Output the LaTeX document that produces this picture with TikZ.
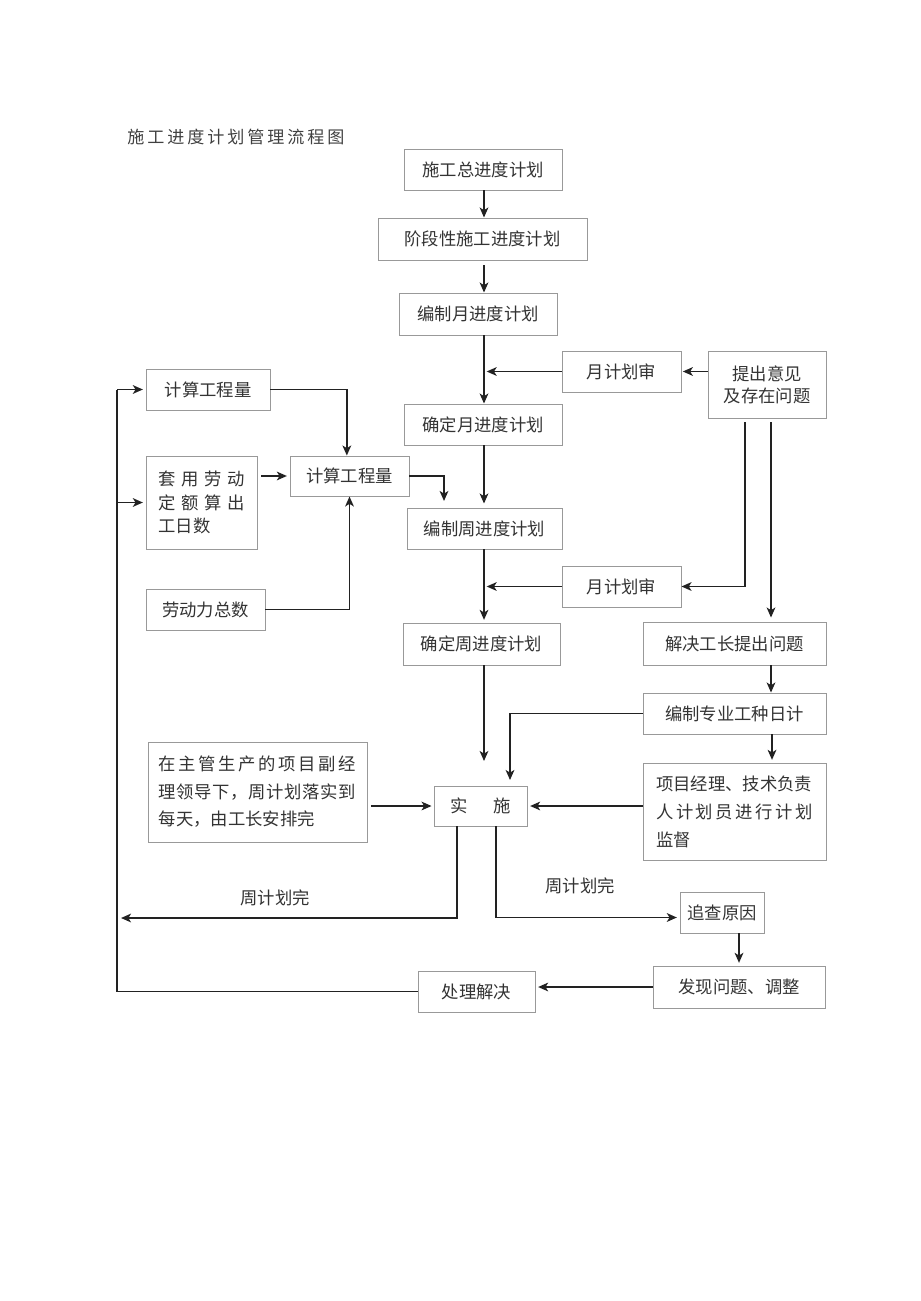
\documentclass[tikz,border=0pt]{standalone}
\usepackage{fontspec}
\setmainfont{Noto Sans CJK SC}
\usetikzlibrary{arrows.meta}
\definecolor{txt}{HTML}{333333}
\definecolor{bord}{HTML}{999999}
\definecolor{ln}{HTML}{222222}
\tikzset{
  box/.style={draw=bord,line width=0.7pt,inner sep=0pt,text=txt,align=left,
    font=\fontsize{13}{17}\selectfont},
  arr/.style={draw=ln,line width=1.4pt,-{Stealth[length=7.5pt,width=6.5pt,inset=2pt]}},
  plain/.style={draw=ln,line width=1.4pt},
  lbl/.style={text=txt,font=\fontsize{13}{17}\selectfont,inner sep=0pt}
}
\newcommand\bx[7][]{\node[box,#1,minimum width={(#4-#2)*0.75pt},minimum height={(#5-#3)*0.75pt}] (#6) at ({(#2+#4)/2},{(#3+#5)/2}) {#7};}
\begin{document}
\begin{tikzpicture}[x=0.75pt,y=-0.75pt]
\useasboundingbox (0,0) rectangle (920,1301);
% title
\node[lbl,anchor=west,text=black!75,font=\fontsize{12.8}{16}\selectfont] (title) at (127,137)
  {施\hspace{2.2pt}工\hspace{2.2pt}进\hspace{2.2pt}度\hspace{2.2pt}计\hspace{2.2pt}划\hspace{2.2pt}管\hspace{2.2pt}理\hspace{2.2pt}流\hspace{2.2pt}程\hspace{2.2pt}图};
% boxes
\bx{404}{149}{562}{190}{B1}{施工总进度计划}
\bx{378}{218}{587}{260}{B2}{阶段性施工进度计划}
\bx{399}{293}{557}{335}{B3}{编制月进度计划}
\bx{562}{351}{681}{392}{B4}{月计划审}
\bx[align=center]{708}{351}{826}{418}{B5}{提出意见\\[-0.5pt]及存在问题}
\bx{404}{404}{562}{445}{B6}{确定月进度计划}
\bx{146}{369}{270}{410}{B7}{计算工程量}
\bx[font=\fontsize{13}{17.6}\selectfont]{146}{456}{257}{549}{B8}{\hbox to 64.5pt{套\hfill 用\hfill 劳\hfill 动}\\\hbox to 64.5pt{定\hfill 额\hfill 算\hfill 出}\\工日数}
\bx{290}{456}{409}{496}{B9}{计算工程量}
\bx{407}{508}{562}{549}{B10}{编制周进度计划}
\bx{562}{566}{681}{607}{B11}{月计划审}
\bx{146}{589}{265}{630}{B12}{劳动力总数}
\bx{403}{623}{560}{665}{B13}{确定周进度计划}
\bx{643}{622}{826}{665}{B14}{解决工长提出问题}
\bx{643}{693}{826}{734}{B15}{编制专业工种日计}
\bx[font=\fontsize{13}{21}\selectfont]{643}{763}{826}{860}{B16}{项目经理、技术负责\\\hbox to 117.5pt{人\hfill 计\hfill 划\hfill 员\hfill 进\hfill 行\hfill 计\hfill 划}\\监督}
\bx[font=\fontsize{13}{20.6}\selectfont]{148}{742}{367}{842}{B17}{\hbox to 148pt{在\hfill 主\hfill 管\hfill 生\hfill 产\hfill 的\hfill 项\hfill 目\hfill 副\hfill 经}\\\hbox to 148pt{理\hfill 领\hfill 导\hfill 下\hfill ，\hfill 周\hfill 计\hfill 划\hfill 落\hfill 实\hfill 到}\\每天，由工长安排完}
\bx{434}{786}{527}{826}{B18}{实\hspace{19.5pt}施}
\bx{680}{892}{764}{933}{B19}{追查原因}
\bx{653}{966}{825}{1008}{B20}{发现问题、调整}
\bx{418}{971}{535}{1012}{B21}{处理解决}
% labels
\node[lbl] (L1) at (275,898) {周计划完};
\node[lbl] (L2) at (580,886) {周计划完};
% helper coordinates
\coordinate (X) at (484,0);
\coordinate (Y) at (771,0);
\coordinate (c1) at (444,501);
\coordinate (p1) at (745,422);
\coordinate (p2) at (771,422);
\coordinate (q1) at (510,780);
\coordinate (q2) at (484,761);
\coordinate (s1) at (457,0);
\coordinate (s2) at (496,0);
\coordinate (r1) at (121,918);
\coordinate (L) at (117,0);
% main column
\draw[arr] (B1.south -| X) -- (B2.north -| X);
\draw[arr] ([yshift=-3.75pt]B2.south -| X) -- (B3.north -| X);
\draw[arr] (B3.south -| X) -- (B6.north -| X);
\draw[arr] (B4.west) -- ([xshift=2pt]B4.west -| X);
\draw[arr] (B5.west |- B4.east) -- ([xshift=1pt]B4.east);
\draw[arr] (B6.south -| X) -- ([yshift=3pt]B10.north -| X);
\draw[arr] (B10.south -| X) -- ([yshift=2pt]B13.north -| X);
\draw[arr] (B11.west) -- ([xshift=2pt]B11.west -| X);
\draw[arr] (B13.south -| X) -- (q2);
% left cluster
\draw[arr] (B7.east) -| ([xshift=-2pt]B9.north);
\draw[arr] (B12.east) -| (B9.south);
\draw[arr] ([xshift=3pt]B8.east |- B9.west) -- ([xshift=-2pt]B9.west);
\draw[arr] (B9.east) -| (c1);
% right cluster
\draw[arr] (p1) |- (B11.east);
\draw[arr] (p2) -- ([yshift=3pt]B14.north -| p2);
\draw[arr] (B14.south -| Y) -- (B15.north -| Y);
\draw[arr] ([xshift=0.75pt]B15.south -| Y) -- ([xshift=0.75pt,yshift=2pt]B16.north -| Y);
\draw[arr] (B15.west) -| (q1);
\draw[arr] (B16.west |- B18.east) -- ([xshift=2pt]B18.east);
\draw[arr] ([xshift=2.5pt]B17.east |- B18.west) -- ([xshift=-1.5pt]B18.west);
% bottom
\draw[arr] (B18.south -| s1) |- (r1);
\draw[arr] (B18.south -| s2) |- ([yshift=-3.75pt,xshift=-2pt]B19.west);
\draw[arr] (B19.south -| B20.north) -- ([yshift=2pt]B20.north);
\draw[arr] (B20.west) -- ([xshift=2pt]B20.west -| B21.east);
\draw[plain] (B21.west) -| (L |- B7.west);
\draw[arr] (L |- B7.west) -- ([xshift=-2pt]B7.west);
\draw[arr] (L |- B8.west) -- ([xshift=-2pt]B8.west);
\end{tikzpicture}
\end{document}
